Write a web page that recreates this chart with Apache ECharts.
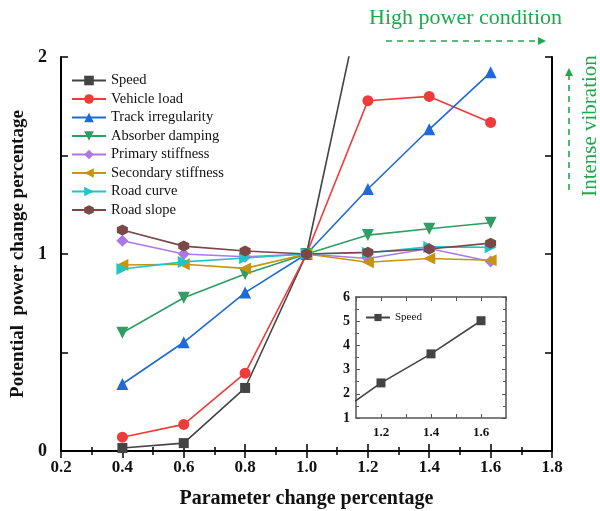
<!DOCTYPE html>
<html>
<head>
<meta charset="utf-8">
<script src="https://cdn.jsdelivr.net/npm/echarts@6/dist/echarts.min.js"></script>
<style>
  html, body { margin: 0; padding: 0; background: #fff; }
  #main { width: 600px; height: 511px; }
</style>
</head>
<body>
<div id="main"></div>
<script>
const xValues = [0.4, 0.6, 0.8, 1.0, 1.2, 1.4, 1.6]
const speed = [0.015, 0.04, 0.32, 1, 2.45, 3.65, 5.02]
const vehicleLoad = [0.07, 0.135, 0.395, 1, 1.778, 1.8, 1.668]
const trackIrregularity = [0.34, 0.552, 0.804, 1, 1.33, 1.633, 1.922]
const absorberDamping = [0.6, 0.778, 0.898, 1, 1.096, 1.128, 1.159]
const primaryStiffness = [1.067, 1.0, 0.986, 1, 0.977, 1.028, 0.962]
const secondaryStiffness = [0.944, 0.948, 0.927, 1, 0.958, 0.977, 0.968]
const roadCurve = [0.924, 0.96, 0.98, 1, 1.006, 1.036, 1.034]
const roadSlope = [1.122, 1.04, 1.015, 1, 1.009, 1.025, 1.055]

const FONT = 'Liberation Serif'
const GREEN = '#22a84c'
const hexagon = 'path://M0,-10 L8.66,-5 L8.66,5 L0,10 L-8.66,5 L-8.66,-5 Z'

const pairs = (ys) => xValues.map((x, i) => [x, ys[i]])

const seriesDefs = [
  { name: 'Speed', data: speed, color: '#444444', symbol: 'rect', size: 10 },
  { name: 'Vehicle load', data: vehicleLoad, color: '#ee3b3b', symbol: 'circle', size: 11 },
  { name: 'Track irregularity', data: trackIrregularity, color: '#1f6ad6', symbol: 'triangle', size: 12 },
  { name: 'Absorber damping', data: absorberDamping, color: '#2f9e62', symbol: 'triangle', rotate: 180, size: 12 },
  { name: 'Primary stiffness', data: primaryStiffness, color: '#ad78e6', symbol: 'diamond', size: 12 },
  { name: 'Secondary stiffness', data: secondaryStiffness, color: '#c8940c', symbol: 'triangle', rotate: 90, size: 12 },
  { name: 'Road curve', data: roadCurve, color: '#1fc6c6', symbol: 'triangle', rotate: -90, size: 12 },
  { name: 'Road slope', data: roadSlope, color: '#7a4846', symbol: hexagon, size: 11 }
]

const chart = echarts.init(document.getElementById('main'))

const axisLine = { show: true, lineStyle: { color: '#000', width: 2 } }
const insetLine = { show: true, lineStyle: { color: '#555', width: 1.5 } }
const insetTick = { inside: true, length: 4, lineStyle: { color: '#555', width: 1 } }

const mainSeries = seriesDefs.map(s => ({
  name: s.name,
  type: 'line',
  xAxisIndex: 0,
  yAxisIndex: 0,
  data: pairs(s.data),
  symbol: s.symbol,
  symbolSize: s.size,
  symbolRotate: s.rotate || 0,
  showAllSymbol: true,
  clip: true,
  color: s.color,
  lineStyle: { color: s.color, width: 1.6 },
  itemStyle: { color: s.color }
}))

const insetSeries = {
  name: 'Speed',
  type: 'line',
  xAxisIndex: 2,
  yAxisIndex: 2,
  data: pairs(speed),
  symbol: 'rect',
  symbolSize: 9,
  clip: true,
  z: 10,
  color: '#444444',
  lineStyle: { color: '#444444', width: 1.6 },
  itemStyle: { color: '#444444' }
}

chart.setOption({
  animation: false,
  textStyle: { fontFamily: FONT },
  grid: [
    { left: 61, right: 48, top: 57, bottom: 60, outerBoundsMode: 'none' },
    { left: 356, top: 297, width: 150, height: 121, outerBoundsMode: 'none' }
  ],
  legend: [
    {
      data: seriesDefs.map(s => s.name),
      orient: 'vertical',
      left: 66,
      top: 68,
      itemWidth: 34,
      itemHeight: 12,
      itemGap: 3.5,
      textStyle: { fontFamily: FONT, fontSize: 14.5, color: '#111' },
      selectedMode: false
    },
    {
      data: ['Speed'],
      left: 360,
      top: 307,
      itemWidth: 24,
      itemHeight: 9,
      textStyle: { fontFamily: FONT, fontSize: 11, color: '#111' },
      selectedMode: false
    }
  ],
  xAxis: [
    {
      type: 'value', gridIndex: 0, min: 0.2, max: 1.8, interval: 0.2,
      name: 'Parameter change percentage', nameLocation: 'middle', nameGap: 38,
      nameTextStyle: { fontFamily: FONT, fontSize: 20, fontWeight: 'bold', color: '#111' },
      axisLine,
      axisTick: { inside: true, length: 7, lineStyle: { color: '#000', width: 1.5 } },
      minorTick: { show: true, splitNumber: 2, length: 4, lineStyle: { color: '#000', width: 1.5 } },
      splitLine: { show: false },
      axisLabel: { fontFamily: FONT, fontSize: 17, fontWeight: 'bold', color: '#111', margin: 8, formatter: v => v.toFixed(1) }
    },
    {
      type: 'value', gridIndex: 0, position: 'top', min: 0.2, max: 1.8, interval: 0.2,
      axisLine,
      axisTick: { inside: true, length: 7, lineStyle: { color: '#000', width: 1.5 } },
      minorTick: { show: true, splitNumber: 2, length: 4, lineStyle: { color: '#000', width: 1.5 } },
      splitLine: { show: false },
      axisLabel: { show: false }
    },
    {
      type: 'value', gridIndex: 1, min: 1.1, max: 1.7, interval: 0.1,
      axisLine: insetLine,
      axisTick: insetTick,
      splitLine: { show: false },
      axisLabel: {
        fontFamily: FONT, fontSize: 13, fontWeight: 'bold', color: '#111', margin: 8,
        showMinLabel: false, showMaxLabel: false,
        formatter: v => (Math.round(v * 10) % 2 === 0 ? v.toFixed(1) : '')
      }
    },
    {
      type: 'value', gridIndex: 1, position: 'top', min: 1.1, max: 1.7, interval: 0.1,
      axisLine: insetLine,
      axisTick: insetTick,
      splitLine: { show: false },
      axisLabel: { show: false }
    }
  ],
  yAxis: [
    {
      type: 'value', gridIndex: 0, min: 0, max: 2, interval: 0.5,
      name: 'Potential  power change percentage', nameLocation: 'middle', nameGap: 33,
      nameTextStyle: { fontFamily: FONT, fontSize: 19, fontWeight: 'bold', color: '#111' },
      axisLine,
      axisTick: { inside: true, length: 7, lineStyle: { color: '#000', width: 1.5 } },
      splitLine: { show: false },
      axisLabel: {
        fontFamily: FONT, fontSize: 18, fontWeight: 'bold', color: '#111', margin: 14,
        formatter: v => (Number.isInteger(v) ? String(v) : '')
      }
    },
    {
      type: 'value', gridIndex: 0, position: 'right', min: 0, max: 2, interval: 0.5,
      axisLine,
      axisTick: { inside: true, length: 7, lineStyle: { color: '#000', width: 1.5 } },
      splitLine: { show: false },
      axisLabel: { show: false }
    },
    {
      type: 'value', gridIndex: 1, min: 1, max: 6, interval: 1,
      axisLine: insetLine,
      axisTick: insetTick,
      minorTick: { show: true, splitNumber: 2, length: 3, lineStyle: { color: '#555', width: 1 } },
      splitLine: { show: false },
      axisLabel: { fontFamily: FONT, fontSize: 14, fontWeight: 'bold', color: '#111', margin: 6 }
    },
    {
      type: 'value', gridIndex: 1, position: 'right', min: 1, max: 6, interval: 1,
      axisLine: insetLine,
      axisTick: insetTick,
      minorTick: { show: true, splitNumber: 2, length: 3, lineStyle: { color: '#555', width: 1 } },
      splitLine: { show: false },
      axisLabel: { show: false }
    }
  ],
  series: [...mainSeries, insetSeries],
  graphic: [
    {
      type: 'text', left: 369, top: 7,
      style: { text: 'High power condition', font: '22px "Liberation Serif"', fill: GREEN }
    },
    {
      type: 'line', shape: { x1: 386, y1: 41, x2: 540, y2: 41 },
      style: { stroke: GREEN, lineWidth: 1.6, lineDash: [6, 5] }
    },
    {
      type: 'polygon', shape: { points: [[538, 37], [546, 41], [538, 45]] },
      style: { fill: GREEN }
    },
    {
      type: 'line', shape: { x1: 569, y1: 190, x2: 569, y2: 74 },
      style: { stroke: GREEN, lineWidth: 1.6, lineDash: [6, 5] }
    },
    {
      type: 'polygon', shape: { points: [[565, 76], [569, 68], [573, 76]] },
      style: { fill: GREEN }
    },
    {
      type: 'text', x: 590, y: 126, rotation: Math.PI / 2,
      style: { text: 'Intense vibration', font: '21px "Liberation Serif"', fill: GREEN, align: 'center', verticalAlign: 'middle' }
    }
  ]
})
</script>
</body>
</html>
